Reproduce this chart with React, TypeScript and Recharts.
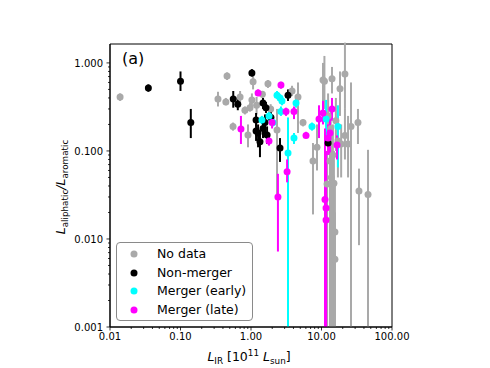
import React from 'react';
import { ScatterChart, Scatter, XAxis, YAxis, ErrorBar, ReferenceArea, Legend } from 'recharts';

// [L_IR, ratio, lowerBound, upperBound]
const NO_DATA: [number, number, number, number][] = [
  [0.0139, 0.41, 0.37, 0.45],
  [0.457, 0.71, 0.64, 0.78],
  [0.34, 0.39, 0.32, 0.47],
  [0.44, 0.36, 0.33, 0.40],
  [0.556, 0.19, 0.17, 0.21],
  [0.70, 0.41, 0.33, 0.48],
  [0.82, 0.29, 0.26, 0.32],
  [1.07, 0.61, 0.50, 0.72],
  [1.74, 0.58, 0.52, 0.64],
  [0.906, 0.152, 0.11, 0.20],
  [1.03, 0.38, 0.32, 0.45],
  [0.968, 0.31, 0.28, 0.35],
  [1.20, 0.33, 0.26, 0.41],
  [1.45, 0.44, 0.40, 0.48],
  [2.34, 0.173, 0.03, 0.30],
  [1.90, 0.30, 0.26, 0.34],
  [3.82, 0.48, 0.42, 0.55],
  [4.64, 0.41, 0.16, 0.60],
  [5.47, 0.21, 0.19, 0.23],
  [8.63, 0.11, 0.06, 0.20],
  [7.57, 0.077, 0.019, 0.123],
  [10.5, 0.64, 0.25, 1.0],
  [11.0, 0.62, 0.30, 1.2],
  [14.1, 0.66, 0.45, 0.90],
  [21.5, 0.75, 0.30, 1.7],
  [18.3, 0.51, 0.25, 0.80],
  [26.2, 0.19, 0.001, 0.60],
  [32.9, 0.21, 0.12, 0.30],
  [13.2, 0.077, 0.001, 0.20],
  [21.5, 0.15, 0.08, 0.30],
  [23.8, 0.12, 0.05, 0.25],
  [34.0, 0.035, 0.0085, 0.063],
  [45.7, 0.032, 0.001, 0.103],
  [12.0, 0.042, 0.001, 0.10],
  [15.5, 0.012, 0.001, 0.04],
  [15.5, 0.0059, 0.001, 0.02],
  [15.0, 0.043, 0.001, 0.10],
  [13.8, 0.05, 0.001, 0.15],
  [14.5, 0.09, 0.001, 0.20],
  [12.4, 0.25, 0.10, 0.45],
  [16.0, 0.22, 0.10, 0.40],
  [17.1, 0.13, 0.05, 0.25],
  [19.0, 0.12, 0.05, 0.20],
  [13.5, 0.18, 0.08, 0.30],
];

const NON_MERGER: [number, number, number, number][] = [
  [0.035, 0.52, 0.47, 0.57],
  [0.10, 0.62, 0.48, 0.80],
  [0.14, 0.21, 0.14, 0.30],
  [0.56, 0.39, 0.31, 0.48],
  [0.65, 0.34, 0.29, 0.40],
  [1.03, 0.77, 0.70, 0.85],
  [1.48, 0.35, 0.30, 0.40],
  [1.63, 0.31, 0.27, 0.36],
  [1.18, 0.225, 0.19, 0.27],
  [1.26, 0.16, 0.11, 0.20],
  [1.34, 0.127, 0.085, 0.17],
  [1.48, 0.18, 0.14, 0.22],
  [1.58, 0.21, 0.15, 0.26],
  [1.92, 0.24, 0.20, 0.29],
  [2.58, 0.108, 0.075, 0.14],
  [3.35, 0.43, 0.37, 0.50],
  [12.4, 0.123, 0.11, 0.135],
  [1.18, 0.168, 0.13, 0.20],
  [1.69, 0.152, 0.12, 0.19],
];

const MERGER_EARLY: [number, number, number, number][] = [
  [2.34, 0.43, 0.39, 0.48],
  [2.75, 0.37, 0.33, 0.42],
  [2.58, 0.40, 0.36, 0.44],
  [4.35, 0.35, 0.31, 0.40],
  [2.66, 0.28, 0.25, 0.32],
  [1.43, 0.225, 0.20, 0.25],
  [1.80, 0.25, 0.22, 0.28],
  [2.05, 0.21, 0.19, 0.24],
  [3.35, 0.095, 0.001, 0.24],
  [4.07, 0.14, 0.12, 0.16],
  [7.33, 0.19, 0.17, 0.21],
  [11.6, 0.23, 0.14, 0.38],
  [17.1, 0.19, 0.065, 0.33],
];

const MERGER_LATE: [number, number, number, number][] = [
  [0.72, 0.178, 0.12, 0.25],
  [1.26, 0.456, 0.42, 0.50],
  [2.66, 0.56, 0.51, 0.61],
  [3.14, 0.28, 0.25, 0.31],
  [4.07, 0.28, 0.23, 0.32],
  [1.99, 0.21, 0.18, 0.24],
  [1.80, 0.13, 0.115, 0.145],
  [3.25, 0.058, 0.044, 0.08],
  [2.41, 0.030, 0.0072, 0.055],
  [6.03, 0.15, 0.14, 0.165],
  [9.22, 0.23, 0.14, 0.33],
  [10.5, 0.27, 0.20, 0.37],
  [14.1, 0.30, 0.22, 0.40],
  [13.2, 0.16, 0.09, 0.25],
  [12.4, 0.14, 0.09, 0.20],
  [16.6, 0.117, 0.08, 0.15],
  [11.2, 0.028, 0.001, 0.18],
  [11.6, 0.0225, 0.001, 0.10],
  [11.6, 0.0164, 0.001, 0.06],
];

const SERIES_NAMES = ['No data', 'Non-merger', 'Merger (early)', 'Merger (late)'];
const SERIES_COLORS = ['#a9a9a9', '#000000', '#00ffff', '#ff00ff'];

const X_MAJOR = [0.01, 0.1, 1, 10, 100];
const Y_MAJOR = [0.001, 0.01, 0.1, 1];
const MINOR_MULT = [2, 3, 4, 5, 6, 7, 8, 9];
const X_DOMAIN: [number, number] = [0.01, 100];
const Y_DOMAIN: [number, number] = [0.001, 1.64];

const buildTicks = (majors: number[], max: number) => {
  const t: number[] = [];
  majors.forEach((m) => {
    t.push(m);
    MINOR_MULT.forEach((k) => {
      const v = m * k;
      if (v < max) t.push(v);
    });
  });
  return t;
};
const X_TICKS = buildTicks(X_MAJOR, X_DOMAIN[1]);
const Y_TICKS = buildTicks(Y_MAJOR, Y_DOMAIN[1]);

const isMajor = (v: number) => Math.abs(Math.log10(v) - Math.round(Math.log10(v))) < 1e-6;

const toData = (arr: [number, number, number, number][]) =>
  arr.map(([x, y, lo, hi]) => ({ x, y, err: [y - Math.max(lo, 0.0010001), hi - y] }));

const FONT = '"DejaVu Sans", sans-serif';

const XTick = (props: any) => {
  const { x, y, payload } = props;
  const v = payload.value;
  const major = isMajor(v);
  return (
    <g>
      <line x1={x} x2={x} y1={y} y2={y + (major ? 3.5 : 2)} stroke="#000" strokeWidth={0.8} />
      {major && (
        <text x={x} y={y + 13} textAnchor="middle" fontSize={10} fontFamily={FONT} fill="#000">
          {v.toFixed(2)}
        </text>
      )}
    </g>
  );
};

const YTick = (props: any) => {
  const { x, y, payload } = props;
  const v = payload.value;
  const major = isMajor(v);
  return (
    <g>
      <line x1={x} x2={x - (major ? 3.5 : 2)} y1={y} y2={y} stroke="#000" strokeWidth={0.8} />
      {major && (
        <text x={x - 7} y={y + 3.6} textAnchor="end" fontSize={10} fontFamily={FONT} fill="#000">
          {v.toFixed(3)}
        </text>
      )}
    </g>
  );
};

const dot = (color: string) => (props: any) =>
  <circle cx={props.cx} cy={props.cy} r={3.5} fill={color} />;

const LegendContent = () => (
  <div
    style={{
      width: 135,
      height: 77,
      border: '1px solid #8a8a8a',
      borderRadius: 4,
      background: '#fff',
      fontFamily: FONT,
      fontSize: 12.5,
      position: 'relative',
    }}
  >
    {SERIES_NAMES.map((name, i) => (
      <div key={name} style={{ position: 'absolute', left: 0, top: 2 + i * 18.7, height: 18, display: 'flex', alignItems: 'center' }}>
        <svg width={40} height={18} style={{ display: 'block' }}>
          <circle cx={17} cy={9} r={3.5} fill={SERIES_COLORS[i]} />
        </svg>
        <span style={{ color: '#000', whiteSpace: 'nowrap', lineHeight: '18px' }}>{name}</span>
      </div>
    ))}
  </div>
);

const XLabel = () => (
  <text x={241} y={353} textAnchor="middle" fontFamily={FONT} fontSize={12.5} fill="#000">
    <tspan fontStyle="italic">L</tspan>
    <tspan fontSize={8.8} dy={2.5}>IR</tspan>
    <tspan dy={-2.5}> [10</tspan>
    <tspan fontSize={8.8} dy={-5}>11</tspan>
    <tspan dy={5}> </tspan>
    <tspan fontStyle="italic">L</tspan>
    <tspan fontSize={8.8} dy={2.5}>sun</tspan>
    <tspan dy={-2.5}>]</tspan>
  </text>
);

const YLabel = () => (
  <text
    transform="translate(57,179) rotate(-90)"
    x={0}
    y={0}
    textAnchor="middle"
    fontFamily={FONT}
    fontSize={12.5}
    fill="#000"
  >
    <tspan fontStyle="italic">L</tspan>
    <tspan fontSize={8.8} dy={2.5}>aliphatic</tspan>
    <tspan dy={-2.5} fontStyle="italic">/L</tspan>
    <tspan fontSize={8.8} dy={2.5}>aromatic</tspan>
  </text>
);

const ALL = [NO_DATA, NON_MERGER, MERGER_EARLY, MERGER_LATE];

export default function App() {
  return (
    <ScatterChart width={482} height={360} margin={{ top: 36, right: 98, bottom: 0, left: 0 }}>
      <XAxis
        dataKey="x"
        type="number"
        scale="log"
        domain={X_DOMAIN}
        allowDataOverflow
        ticks={X_TICKS}
        interval={0}
        tick={<XTick />}
        tickSize={0}
        tickMargin={0}
        height={41}
        axisLine={{ stroke: '#000', strokeWidth: 1 }}
        tickLine={false}
        label={{ content: () => <XLabel /> }}
      />
      <YAxis
        dataKey="y"
        type="number"
        scale="log"
        domain={Y_DOMAIN}
        allowDataOverflow
        ticks={Y_TICKS}
        interval={0}
        tick={<YTick />}
        tickSize={0}
        tickMargin={0}
        width={102}
        axisLine={{ stroke: '#000', strokeWidth: 1 }}
        tickLine={false}
        label={{ content: () => <YLabel /> }}
      />
      {ALL.map((arr, i) => (
        <Scatter
          key={SERIES_NAMES[i]}
          name={SERIES_NAMES[i]}
          data={toData(arr)}
          fill={SERIES_COLORS[i]}
          shape={dot(SERIES_COLORS[i])}
          isAnimationActive={false}
        >
          <ErrorBar
            dataKey="err"
            direction="y"
            width={0}
            stroke={SERIES_COLORS[i]}
            strokeWidth={2}
            isAnimationActive={false}
          />
        </Scatter>
      ))}
      <ReferenceArea
        x1={X_DOMAIN[0]}
        x2={X_DOMAIN[1]}
        y1={Y_DOMAIN[0]}
        y2={Y_DOMAIN[1]}
        fill="none"
        stroke="#000"
        strokeWidth={1}
        ifOverflow="visible"
      />
      <text x={114} y={56} fontFamily={FONT} fontSize={16} fill="#000">(a)</text>
      <Legend
        layout="vertical"
        align="center"
        verticalAlign="middle"
        content={<LegendContent />}
        wrapperStyle={{ left: 108, top: 234, width: 137, height: 79 }}
      />
    </ScatterChart>
  );
}
